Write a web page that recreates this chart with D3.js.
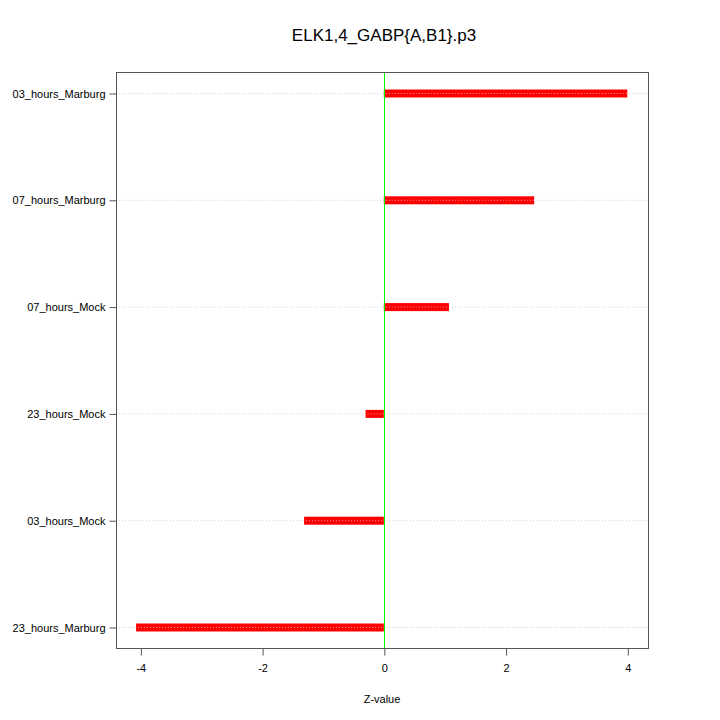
<!DOCTYPE html>
<html>
<head>
<meta charset="utf-8">
<script src="https://cdn.jsdelivr.net/npm/d3@7"></script>
<style>
  body { margin: 0; background: #fff; }
  svg { display: block; font-family: "Liberation Sans", Arial, sans-serif; }
</style>
</head>
<body>
<svg width="720" height="720"></svg>
<script>
// samples, bottom to top
const samples = ['23_hours_Marburg', '03_hours_Mock', '23_hours_Mock', '07_hours_Mock', '07_hours_Marburg', '03_hours_Marburg'];
const zValues = [-4.07, -1.31, -0.30, 1.07, 2.47, 4.0];
const xTicks = [-4, -2, 0, 2, 4];

const svg = d3.select('svg');
const plotLeft = 116, plotRight = 648, plotTop = 72, plotBottom = 648;

const x = d3.scaleLinear().domain([-4.40, 4.34]).range([plotLeft, plotRight]);
const y = d3.scaleLinear().domain([1, 6]).range([627, 93]);

// grid lines
svg.append('g').selectAll('line')
    .data(samples)
    .enter().append('line')
        .attr('x1', plotLeft).attr('x2', plotRight)
        .attr('y1', (d, i) => y(i + 1) + 0.5).attr('y2', (d, i) => y(i + 1) + 0.5)
        .attr('stroke', '#d3d3d3')
        .attr('stroke-dasharray', '1,2');

// bars
svg.append('g').selectAll('rect')
    .data(zValues)
    .enter().append('rect')
        .attr('x', d => Math.min(x(0), x(d)))
        .attr('width', d => Math.abs(x(d) - x(0)))
        .attr('y', (d, i) => y(i + 1) - 3.5)
        .attr('height', 8)
        .attr('fill', '#ff0000');

// dotted grid showing through bars
svg.append('g').selectAll('line')
    .data(zValues)
    .enter().append('line')
        .attr('x1', d => Math.min(x(0), x(d)) + 2)
        .attr('x2', d => Math.max(x(0), x(d)))
        .attr('y1', (d, i) => y(i + 1) + 0.5).attr('y2', (d, i) => y(i + 1) + 0.5)
        .attr('stroke', '#ff9a9a')
        .attr('stroke-dasharray', '1,2');

// zero line
svg.append('line')
    .attr('x1', Math.round(x(0)) + 0.5).attr('x2', Math.round(x(0)) + 0.5)
    .attr('y1', plotTop).attr('y2', plotBottom)
    .attr('stroke', '#00ff00')
    .attr('stroke-width', 1);

// box
svg.append('rect')
    .attr('x', plotLeft + 0.5).attr('y', plotTop + 0.5)
    .attr('width', plotRight - plotLeft).attr('height', plotBottom - plotTop)
    .attr('fill', 'none')
    .attr('stroke', '#555');

// x axis
const xAxis = svg.append('g')
    .attr('transform', 'translate(0.5,' + (plotBottom + 0.5) + ')')
    .call(d3.axisBottom(x).tickValues(xTicks).tickSize(7).tickPadding(9).tickFormat(d => String(d)));
xAxis.select('.domain').remove();
xAxis.selectAll('line').attr('stroke', '#555');
xAxis.selectAll('text').attr('font-size', 11).attr('fill', '#000')
    .attr('font-family', '"Liberation Sans", Arial, sans-serif');

// y axis
const yAxis = svg.append('g')
    .attr('transform', 'translate(' + (plotLeft + 0.5) + ',0.5)')
    .call(d3.axisLeft(y).tickValues(d3.range(1, 7)).tickSize(7).tickPadding(4)
        .tickFormat(d => samples[d - 1]));
yAxis.select('.domain').remove();
yAxis.selectAll('line').attr('stroke', '#555');
yAxis.selectAll('text').attr('font-size', 11).attr('fill', '#000')
    .attr('font-family', '"Liberation Sans", Arial, sans-serif');

// title and label
svg.append('text')
    .attr('x', 384).attr('y', 41)
    .attr('text-anchor', 'middle')
    .attr('font-size', 17)
    .text('ELK1,4_GABP{A,B1}.p3');

svg.append('text')
    .attr('x', 382).attr('y', 703)
    .attr('text-anchor', 'middle')
    .attr('font-size', 11)
    .text('Z-value');
</script>
</body>
</html>
